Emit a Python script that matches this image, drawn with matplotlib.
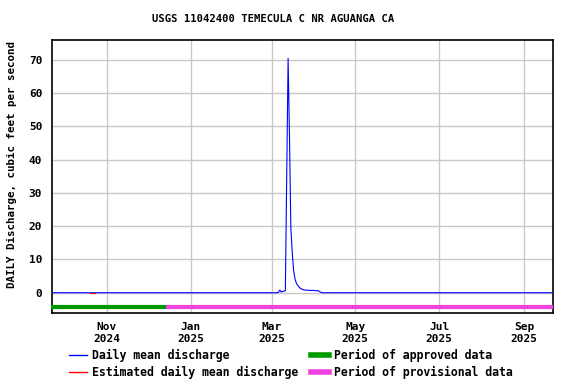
import matplotlib
matplotlib.use("Agg")
import matplotlib.pyplot as plt
import matplotlib.dates as mdates
from matplotlib.lines import Line2D
import pandas as pd

# daily mean discharge, cfs (zero flow except the March storm)
dates = pd.date_range("2024-09-22", "2025-09-21", freq="D")
storm_dates = pd.date_range("2025-03-06", "2025-04-06", freq="D")
storm_flow = [0.1, 0.8, 0.2, 0.4, 0.5, 0.6, 36.0, 70.5, 47.0, 19.5, 12.3,
              6.8, 4.2, 2.9, 2.2, 1.7, 1.3, 1.1, 0.9, 0.8, 0.8, 0.8, 0.7,
              0.7, 0.7, 0.7, 0.7, 0.6, 0.6, 0.6, 0.3, 0.1]
est_dates = pd.date_range("2024-10-20", "2024-10-23", freq="D")
est_flow = [0.0, 0.0, 0.0, 0.0]

approved = ("2024-09-21", "2024-12-14")
provisional = ("2024-12-14", "2025-09-22")

flow = pd.Series(0.0, index=dates)
flow.loc[storm_dates] = storm_flow

plt.rcParams["font.family"] = "DejaVu Sans Mono"
plt.rcParams["font.weight"] = "bold"

fig = plt.figure(figsize=(5.76, 3.84), dpi=100)
ax = fig.add_axes([0.0903, 0.1857, 0.8698, 0.7101])

ax.plot(flow.index, flow.values, color="#0000ff", lw=0.8, zorder=3)
ax.plot(est_dates, est_flow, color="#ff0000", lw=0.8, zorder=4)

bar_y = -4.4
ax.plot(pd.to_datetime(approved), [bar_y, bar_y], color="#009900", lw=3,
        solid_capstyle="butt", zorder=5, clip_on=False)
ax.plot(pd.to_datetime(provisional), [bar_y, bar_y], color="#ee44dd", lw=3,
        solid_capstyle="butt", zorder=5, clip_on=False)

ax.set_xlim(pd.Timestamp("2024-09-22"), pd.Timestamp("2025-09-22"))
ax.set_ylim(-6, 76)
ax.set_yticks(range(0, 71, 10))
ax.set_xticks(pd.to_datetime(["2024-11-01", "2025-01-01", "2025-03-01",
                              "2025-05-01", "2025-07-01", "2025-09-01"]))
ax.xaxis.set_major_formatter(mdates.DateFormatter("%b\n%Y"))
ax.grid(True, color="#c8c8c8", lw=1)
ax.set_axisbelow(True)
ax.tick_params(length=0, labelsize=8, pad=7)
ax.tick_params(axis="x", pad=7)
for s in ax.spines.values():
    s.set_linewidth(1.2)

fig.text(12 / 576, 1 - 165 / 384, "DAILY Discharge, cubic feet per second",
         rotation=90, ha="center", va="center", fontsize=7.8, fontweight="bold")
fig.text(0.474, 0.951, "USGS 11042400 TEMECULA C NR AGUANGA CA",
         ha="center", va="center", fontsize=7.6, fontweight="bold")

handles = [Line2D([], [], color="#0000ff", lw=1),
           Line2D([], [], color="#ff0000", lw=1),
           Line2D([], [], color="#009900", lw=4),
           Line2D([], [], color="#ee44dd", lw=4)]
labels = ["Daily mean discharge", "Estimated daily mean discharge",
          "Period of approved data", "Period of provisional data"]
fig.legend(handles, labels, ncol=2, frameon=False, fontsize=8.3,
           loc="upper left", bbox_to_anchor=(0.119, 0.092),
           handlelength=1.6, handletextpad=0.4, columnspacing=1.1,
           labelspacing=0.35, borderaxespad=0, borderpad=0)

fig.savefig("out.png", dpi=100)
